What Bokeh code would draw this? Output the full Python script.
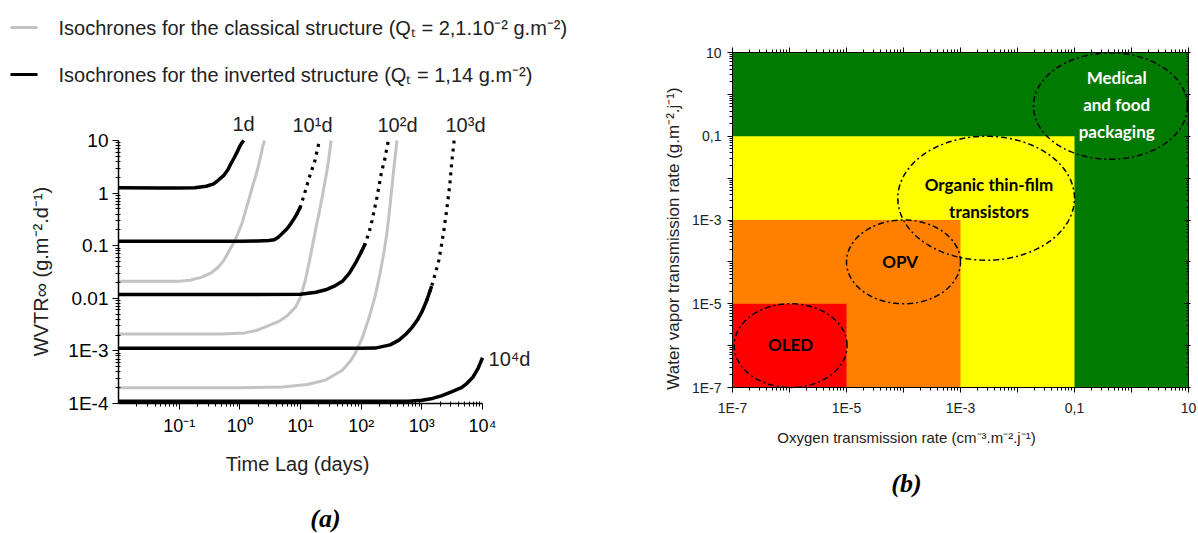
import numpy as np
from bokeh.plotting import figure
from bokeh.models import (Range1d, FixedTicker, CustomJSTickFormatter, LogAxis)
from bokeh.layouts import row, column
from bokeh.embed import file_html
from bokeh.resources import INLINE
from bokeh.core.properties import value

# ---------------- Panel (a) data ----------------
# Isochrones, inverted structure (black)
inv_1d_t = [0.01, 0.05, 0.1, 0.18, 0.28, 0.37, 0.44, 0.55, 0.64, 0.71, 0.8, 0.9, 1.0, 1.08, 1.16]
inv_1d_w = [1.26, 1.25, 1.25, 1.27, 1.35, 1.5, 1.75, 2.2, 2.8, 3.6, 4.6, 6.0, 7.8, 9.0, 10.0]
inv_10d_t = [0.01, 0.1, 1.0, 2.0, 3.0, 3.7, 4.3, 5.0, 6.0, 6.9, 8.5, 10.0, 12.0, 14.5, 17.0, 18.5, 20.5]
inv_10d_w = [0.122, 0.122, 0.122, 0.123, 0.126, 0.13, 0.145, 0.17, 0.21, 0.26, 0.38, 0.55, 1.1, 2.3, 3.8,
             5.9, 10.0]
inv_100d_t = [0.01, 1, 10, 18, 26, 36, 49, 64, 80, 98, 117, 135, 151, 166, 182, 198, 214, 230, 246, 268, 282]
inv_100d_w = [0.0118, 0.0118, 0.0119, 0.013, 0.0145, 0.017, 0.021, 0.03, 0.046, 0.072, 0.11, 0.18, 0.30,
              0.5, 0.83, 1.4, 2.35, 3.3, 4.5, 7.7, 10.0]
inv_1000d_t = [0.01, 1, 10, 100, 170, 300, 420, 550, 690, 850, 1000, 1200, 1450, 1700, 1900, 2100, 2300,
               2600, 2900, 3100, 3300, 3400]
inv_1000d_w = [0.00112, 0.00112, 0.00112, 0.00112, 0.00113, 0.0013, 0.0016, 0.0021, 0.0028, 0.0039, 0.0055,
               0.009, 0.017, 0.032, 0.052, 0.1, 0.19, 0.53, 1.5, 3.7, 7.0, 10.0]
inv_10000d_t = [0.01, 1, 100, 600, 1000, 1500, 2100, 3000, 4500, 5500, 7000, 8500, 10000]
inv_10000d_w = [1.1e-4, 1.1e-4, 1.1e-4, 1.1e-4, 1.15e-4, 1.25e-4, 1.4e-4, 1.65e-4, 2.0e-4, 2.4e-4, 3.2e-4,
                4.7e-4, 7.4e-4]

# Isochrones, classical structure (gray)
cls_1_t = [0.01, 0.1, 0.15, 0.23, 0.33, 0.44, 0.54, 0.63, 0.78, 0.93, 1.1, 1.25, 1.43, 1.6, 1.8, 2.0, 2.2,
           2.4, 2.57]
cls_1_w = [0.021, 0.021, 0.022, 0.025, 0.03, 0.039, 0.052, 0.071, 0.11, 0.17, 0.28, 0.47, 0.8, 1.29, 2.0,
           3.1, 5.0, 8.0, 10.0]
cls_2_t = [0.01, 0.5, 1.2, 2.0, 2.9, 4.5, 6.1, 8.3, 10, 12, 14, 16, 18, 20.5, 23, 25, 27, 29, 32]
cls_2_w = [0.0021, 0.0021, 0.0022, 0.0025, 0.003, 0.0037, 0.0047, 0.0068, 0.0105, 0.022, 0.05, 0.11, 0.22,
           0.45, 0.9, 1.5, 2.5, 4.2, 10.0]
cls_3_t = [0.01, 1, 5, 13, 26, 49, 65, 80, 105, 135, 170, 205, 240, 270, 300, 325, 360, 390]
cls_3_w = [2.0e-4, 2.0e-4, 2.05e-4, 2.3e-4, 2.8e-4, 4.3e-4, 6.2e-4, 9e-4, 0.0018, 0.0043, 0.011, 0.03, 0.08,
           0.2, 0.6, 1.5, 4.5, 10.0]

# y-value above which each black curve is drawn dotted (sparse points in the original)
inv_dotted_above = [20.0, 0.45, 0.09, 0.012, 20.0]

curve_labels = ["1d", "10\u00b9d", "10\u00b2d", "10\u00b3d", "10\u2074d"]

a_x_ticks = [0.1, 1, 10, 100, 1000, 10000]
a_y_ticks = [1e-4, 1e-3, 0.01, 0.1, 1, 10]
a_y_tick_labels = ["1E-4", "1E-3", "0.01", "0.1", "1", "10"]

legend_texts = ["Isochrones for the classical structure (Q\u209c = 2,1.10\u207b\u00b2 g.m\u207b\u00b2)",
                "Isochrones for the inverted structure (Q\u209c = 1,14 g.m\u207b\u00b2)"]

# ---------------- Panel (b) data ----------------
zone_names = ["packaging", "OTFT", "OPV", "OLED"]
zone_xmax = [10, 0.1, 1e-3, 1e-5]
zone_ymax = [10, 0.1, 1e-3, 1e-5]
zone_min = 1e-7
zone_colors = ["#007a00", "#ffff00", "#ff8000", "#ff0000"]

# ellipses (log10 centre / log10 half-axes)
ell_cx = [-0.37, -2.55, -4.0, -5.98]
ell_cy = [-0.28, -2.48, -4.0, -6.0]
ell_rx = [1.35, 1.55, 1.0, 0.99]
ell_ry = [1.27, 1.48, 1.0, 1.0]

app_text = ["Medical\nand food\npackaging", "Organic thin-film\ntransistors", "OPV", "OLED"]
app_x = [10 ** -0.26, 10 ** -2.5, 10 ** -4.06, 10 ** -5.98]
app_y = [10 ** -0.24, 10 ** -2.48, 10 ** -4.0, 10 ** -5.98]
app_color = ["white", "black", "black", "black"]

b_ticks = [10.0 ** e for e in range(-7, 2)]
b_tick_labels = {"-7": "1E-7", "-5": "1E-5", "-3": "1E-3", "-1": "0,1", "1": "10"}

FONT = "Liberation Sans"
TXT = "#222222"

# ================= Panel (a) =================
# page-pixel geometry of the plotting box (frame spans the whole canvas,
# axes are fixed at the box edges)
A_W, A_H = 620, 533
A_BX0, A_BX1, A_BY0, A_BY1 = 118, 482, 140, 403
A_LX = (-2.0, 4.0)      # log10 x at box left/right
A_LY = (-4.0, 1.0)      # log10 y at box bottom/top


def a_lx(px):
    return A_LX[0] + (px - A_BX0) * (A_LX[1] - A_LX[0]) / (A_BX1 - A_BX0)


def a_ly(py):
    return A_LY[0] + (A_BY1 - py) * (A_LY[1] - A_LY[0]) / (A_BY1 - A_BY0)


def da(px, py):
    return 10 ** a_lx(px), 10 ** a_ly(py)


pa = figure(width=A_W, height=A_H, x_axis_type="log", y_axis_type="log",
            x_range=Range1d(10 ** a_lx(0), 10 ** a_lx(A_W)),
            y_range=Range1d(10 ** a_ly(A_H), 10 ** a_ly(0)),
            output_backend="svg", toolbar_location=None,
            min_border_left=0, min_border_right=0, min_border_top=0, min_border_bottom=0)
pa.outline_line_color = None
pa.grid.visible = False

minor_a_x = [m * 10.0 ** e for e in range(-2, 4) for m in range(2, 10)]
minor_a_y = [m * 10.0 ** e for e in range(-4, 1) for m in range(2, 10)]
ax_a_x = pa.below[0]
ax_a_y = pa.left[0]
ax_a_x.fixed_location = 10 ** A_LY[0]
ax_a_y.fixed_location = 10 ** A_LX[0]
ax_a_x.bounds = (10 ** A_LX[0], 10 ** A_LX[1])
ax_a_y.bounds = (10 ** A_LY[0], 10 ** A_LY[1])
ax_a_x.ticker = FixedTicker(ticks=a_x_ticks, minor_ticks=minor_a_x)
ax_a_y.ticker = FixedTicker(ticks=a_y_ticks, minor_ticks=minor_a_y)
ax_a_x.formatter = CustomJSTickFormatter(code="""
const e = Math.round(Math.log10(tick));
const sup = {'-':'\u207b','0':'\u2070','1':'\u00b9','2':'\u00b2','3':'\u00b3','4':'\u2074'};
return '10' + String(e).split('').map(c => sup[c]).join('');
""")
ax_a_y.formatter = CustomJSTickFormatter(args=dict(vals=[int(round(np.log10(v))) for v in a_y_ticks],
                                                   labels=a_y_tick_labels), code="""
const e = Math.round(Math.log10(tick));
const i = vals.indexOf(e);
return i >= 0 ? labels[i] : '';
""")
for ax in (ax_a_x, ax_a_y):
    ax.axis_line_color = "black"
    ax.axis_line_width = 1.5
    ax.major_tick_line_color = "black"
    ax.minor_tick_line_color = "black"
    ax.major_tick_out = 6
    ax.major_tick_in = 0
    ax.minor_tick_out = 3
    ax.minor_tick_in = 2
    ax.major_label_text_font = FONT
    ax.major_label_text_color = "black"
ax_a_x.major_label_text_font_size = "18px"
ax_a_y.major_label_text_font_size = "19px"
ax_a_x.major_label_standoff = 6
ax_a_y.major_label_standoff = 4

GRAY = "#c3c3c3"
for t, w in [(cls_1_t, cls_1_w), (cls_2_t, cls_2_w), (cls_3_t, cls_3_w)]:
    pa.line(t, w, line_color=GRAY, line_width=3)

inv_series = [(inv_1d_t, inv_1d_w), (inv_10d_t, inv_10d_w), (inv_100d_t, inv_100d_w),
              (inv_1000d_t, inv_1000d_w), (inv_10000d_t, inv_10000d_w)]
for (t, w), thr in zip(inv_series, inv_dotted_above):
    k = next((i for i, v in enumerate(w) if v > thr), len(w))
    pa.line(t[:k + 1], w[:k + 1], line_color="black", line_width=3.5)
    if k < len(w):
        pa.line(t[k - 1:], w[k - 1:], line_color="black", line_width=3.2, line_dash="3 5")

# curve labels
lab_pix = [(243, 123), (312, 124), (397, 124), (465, 124), (509, 358)]
lab_xy = [da(px, py) for px, py in lab_pix]
pa.text(x=[p[0] for p in lab_xy], y=[p[1] for p in lab_xy], text=curve_labels,
        text_font=value(FONT), text_font_size="20px", text_align="center",
        text_baseline="middle", text_color=TXT)

# legend (line samples + texts)
leg_rows = [27, 74]
seg0 = [da(10, r) for r in leg_rows]
seg1 = [da(37, r) for r in leg_rows]
pa.segment(x0=[p[0] for p in seg0], y0=[p[1] for p in seg0],
           x1=[p[0] for p in seg1], y1=[p[1] for p in seg1],
           line_color=[GRAY, "black"], line_width=3)
leg_xy = [da(58, r) for r in leg_rows]
pa.text(x=[p[0] for p in leg_xy], y=[p[1] for p in leg_xy], text=legend_texts,
        text_font=value(FONT), text_font_size="20px", text_align="left",
        text_baseline="middle", text_color=TXT)

# axis titles and caption
xt = da(297, 463)
pa.text(x=[xt[0]], y=[xt[1]], text=["Time Lag (days)"], text_font=value(FONT),
        text_font_size="20px", text_align="center", text_baseline="middle", text_color=TXT)
yt = da(40, 271)
pa.text(x=[yt[0]], y=[yt[1]], text=["WVTR\u221e (g.m\u207b\u00b2.d\u207b\u00b9)"], angle=np.pi / 2,
        text_font=value(FONT), text_font_size="20px", text_align="center",
        text_baseline="middle", text_color=TXT)
ca = da(325, 518)
pa.text(x=[ca[0]], y=[ca[1]], text=["(a)"], text_font=value("Liberation Serif"),
        text_font_style="bold italic", text_font_size="26px", text_align="center",
        text_baseline="middle", text_color="black")

# ================= Panel (b) =================
B_X0 = A_W                      # page x of panel (b) canvas
B_W, B_H = 578, 533
B_BX0, B_BX1, B_BY0, B_BY1 = 732, 1188, 52, 387
B_LX = (-7.0, 1.0)
B_LY = (-7.0, 1.0)


def b_lx(px):
    return B_LX[0] + (px - B_BX0) * (B_LX[1] - B_LX[0]) / (B_BX1 - B_BX0)


def b_ly(py):
    return B_LY[0] + (B_BY1 - py) * (B_LY[1] - B_LY[0]) / (B_BY1 - B_BY0)


def db(px, py):
    return 10 ** b_lx(px), 10 ** b_ly(py)


pb = figure(width=B_W, height=B_H, x_axis_type="log", y_axis_type="log",
            x_range=Range1d(10 ** b_lx(B_X0), 10 ** b_lx(B_X0 + B_W)),
            y_range=Range1d(10 ** b_ly(B_H), 10 ** b_ly(0)),
            output_backend="svg", toolbar_location=None,
            min_border_left=0, min_border_right=0, min_border_top=0, min_border_bottom=0)
pb.grid.visible = False
pb.outline_line_color = None

pb.quad(left=[zone_min] * 4, right=zone_xmax, bottom=[zone_min] * 4, top=zone_ymax,
        fill_color=zone_colors, line_color=None)

theta = np.linspace(0, 2 * np.pi, 240)
exs = [10 ** (c + r * np.cos(theta)) for c, r in zip(ell_cx, ell_rx)]
eys = [10 ** (c + r * np.sin(theta)) for c, r in zip(ell_cy, ell_ry)]
pb.multi_line(exs, eys, line_color="black", line_width=1.5, line_dash="6 3 2 3")

pb.text(x=app_x, y=app_y, text=app_text, text_color=app_color, text_font=value("Lato"),
        text_font_style="bold", text_font_size="17px", text_align="center",
        text_baseline="middle", text_line_height=1.3)

minor_b = [m * 10.0 ** e for e in range(-7, 1) for m in range(2, 10)]
b_fmt = CustomJSTickFormatter(args=dict(labels=b_tick_labels), code="""
const e = String(Math.round(Math.log10(tick)));
return (e in labels) ? labels[e] : '';
""")
blank_fmt = CustomJSTickFormatter(code="return '';")

ax_b_x = pb.below[0]
ax_b_y = pb.left[0]
ax_b_x.formatter = b_fmt
ax_b_y.formatter = b_fmt
top_ax = LogAxis(formatter=blank_fmt)
right_ax = LogAxis(formatter=blank_fmt)
pb.add_layout(top_ax, "above")
pb.add_layout(right_ax, "right")
for ax in (ax_b_x, ax_b_y, top_ax, right_ax):
    ax.ticker = FixedTicker(ticks=b_ticks, minor_ticks=minor_b)
    ax.axis_line_color = "black"
    ax.major_tick_line_color = "black"
    ax.minor_tick_line_color = "black"
    ax.major_tick_out = 5
    ax.major_tick_in = 0
    ax.minor_tick_out = 3
    ax.minor_tick_in = 0
    ax.major_label_text_font = FONT
    ax.major_label_text_font_size = "14px"
    ax.major_label_text_color = TXT
ax_b_x.bounds = ax_b_y.bounds = top_ax.bounds = right_ax.bounds = (10 ** B_LX[0], 10 ** B_LX[1])
ax_b_x.fixed_location = 10 ** B_LY[0]
top_ax.fixed_location = 10 ** B_LY[1]
ax_b_y.fixed_location = 10 ** B_LX[0]
right_ax.fixed_location = 10 ** B_LX[1]
right_ax.major_tick_out = 2
right_ax.minor_tick_out = 0
right_ax.major_tick_in = 4
right_ax.minor_tick_in = 2
ax_b_x.major_label_standoff = 7
ax_b_y.major_label_standoff = 6

bxt = db(906, 437)
pb.text(x=[bxt[0]], y=[bxt[1]], text=["Oxygen transmission rate (cm\u207b\u00b3.m\u207b\u00b2.j\u207b\u00b9)"],
        text_font=value(FONT), text_font_size="15px", text_align="center",
        text_baseline="middle", text_color=TXT)
byt = db(673, 238)
pb.text(x=[byt[0]], y=[byt[1]], text=["Water vapor transmission rate (g.m\u207b\u00b2.j\u207b\u00b9)"],
        angle=np.pi / 2, text_font=value(FONT), text_font_size="17px", text_align="center",
        text_baseline="middle", text_color=TXT)
cb = db(906, 483)
pb.text(x=[cb[0]], y=[cb[1]], text=["(b)"], text_font=value("Liberation Serif"),
        text_font_style="bold italic", text_font_size="26px", text_align="center",
        text_baseline="middle", text_color="black")

layout = row(column(pa), column(pb))
open("out.html", "w").write(file_html(layout, INLINE))
